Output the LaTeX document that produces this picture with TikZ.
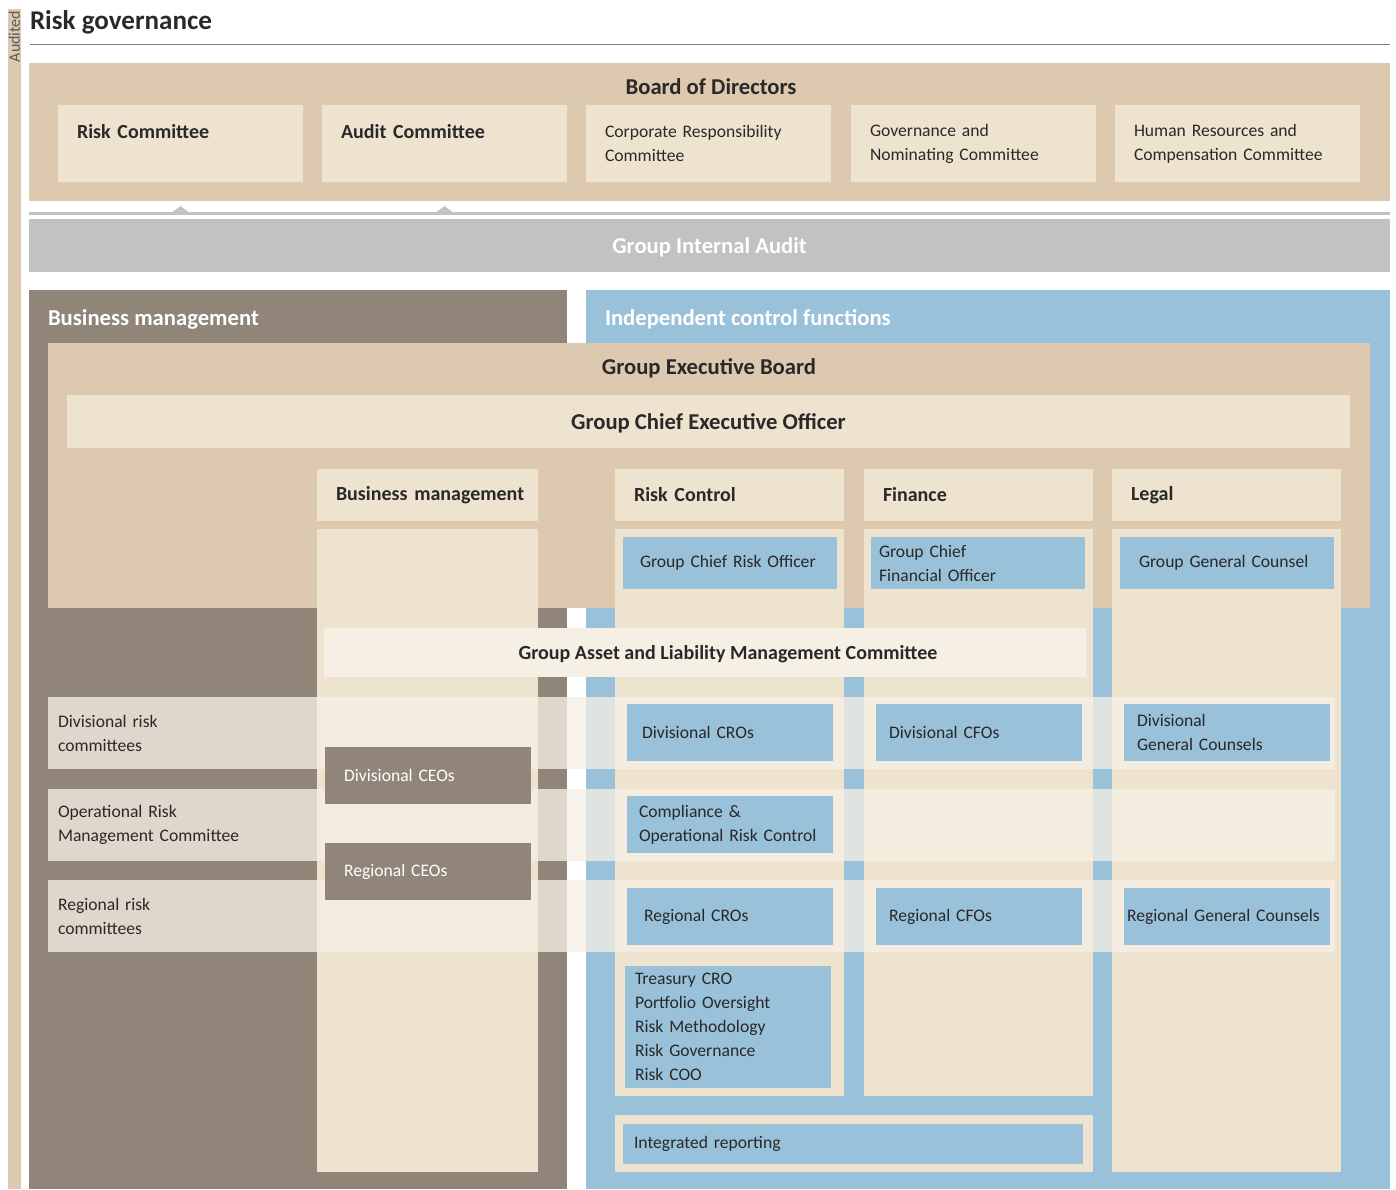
\documentclass[tikz,border=0pt]{standalone}
\usepackage{fontspec}
\setmainfont{Carlito}
\usetikzlibrary{positioning,calc}
\definecolor{boardtan}{HTML}{DCC9B0}
\definecolor{cream}{HTML}{EDE3CF}
\definecolor{pale}{HTML}{F5EFE4}
\definecolor{taupe}{HTML}{918579}
\definecolor{sky}{HTML}{99C1D9}
\definecolor{audgray}{HTML}{C1C2C4}
\definecolor{ink}{HTML}{2A2828}
\newcommand{\bodyfont}{\fontsize{13.2}{18}\selectfont}
\newcommand{\headfont}{\fontsize{15}{18}\selectfont\bfseries}
\newcommand{\levelfont}{\fontsize{17}{20}\selectfont\bfseries}

\begin{document}
\begin{tikzpicture}[x=0.75pt,y=-0.75pt,
  every node/.style={inner sep=0pt,outer sep=0pt,anchor=north west,text=ink,font=\bodyfont},
  wh/.style 2 args={minimum width=#1*0.75pt,minimum height=#2*0.75pt},
  txt/.code n args={3}{%
    \pgfmathsetlengthmacro\boxw{#1*0.75pt}%
    \pgfmathsetlengthmacro\boxh{#2*0.75pt}%
    \pgfmathsetlengthmacro\boxp{#3*0.75pt}%
    \pgfmathsetlengthmacro\boxt{(#1-2*#3)*0.75pt}%
    \tikzset{minimum width=\boxw,minimum height=\boxh,inner xsep=\boxp,text width=\boxt,align=left}},
  head/.style={font=\headfont},
  level/.style={font=\levelfont,text depth=0pt},
  sect/.style={level,text=white,anchor=west},
  comm/.style={fill=cream,txt={245}{77}{19}},
  colhead/.style={fill=cream,font=\headfont,txt={#1}{52}{19}},
  sbox/.style n args={3}{fill=sky,txt={#1}{#2}{#3}},
  ceo/.style={fill=taupe,text=white,txt={206}{57}{19}},
  band/.style={fill=pale,fill opacity=0.78,text opacity=1,txt={1287}{72}{10}}]
\useasboundingbox (0,0) rectangle (1396,1189);

% heading
\fill[boardtan] (8,9) rectangle (21,1189);
\node[rotate=90,anchor=center,font=\fontsize{12}{14}\selectfont,text=black!65] (aud) at (14.5,36.5) {Audited};
\node[anchor=base west,font=\fontsize{20.3}{24}\selectfont\bfseries] (title) at (30,29) {Risk governance};
\draw[black!50,line width=0.75pt] (30,44) -- (1390,44);

% board level
\node[fill=boardtan,wh={1361}{138}] (board) at (29,63) {};
\node[level,anchor=center] (boardt) at (711,87) {Board of Directors};
\node[comm,font=\headfont] (riskc) at (58,105) {Risk Committee\\\mbox{}};
\node[comm,font=\headfont] (auditc) at (322,105) {Audit Committee\\\mbox{}};
\node[comm] (crc) at (586,105) {Corporate Responsibility\\Committee};
\node[comm] (gnc) at (851,105) {Governance and\\Nominating Committee};
\node[comm] (hrc) at (1115,105) {Human Resources and\\Compensation Committee};

% internal audit
\fill[audgray] (29,212) rectangle (1390,214.5);
\foreach \c in {riskc,auditc}
  \fill[audgray] ($(\c.south)+(-8,30)$) -- ++(8,-6) -- ++(8,6) -- cycle;
\node[fill=audgray,wh={1361}{53},level,text=white] (gia) at (29,219) {Group Internal Audit};

% two sides
\node[fill=taupe,wh={538}{899}] (bm) at (29,290) {};
\node[fill=sky,wh={804}{899}] (icf) at (586,290) {};
\node[sect] (bmt) at (48,318) {Business management};
\node[sect] (icft) at (605,318) {Independent control functions};

% executive board
\node[fill=boardtan,wh={1322}{265}] (geb) at (48,343) {};
\node[level,anchor=center] (gebt) at (709,367) {Group Executive Board};
\node[fill=cream,wh={1283}{53},level] (gceo) at (67,395) {Group Chief Executive Officer};

% columns
\node[colhead=221] (bmh) at (317,469) {\mbox{Business management}};
\node[colhead=229] (rch) at (615,469) {Risk Control};
\node[colhead=229] (finh) at (864,469) {Finance};
\node[colhead=229] (legh) at (1112,469) {Legal};
\node[fill=cream,wh={221}{643},below=6pt of bmh] (bmcol) {};
\node[fill=cream,wh={229}{567},below=6pt of rch] (rccol) {};
\node[fill=cream,wh={229}{567},below=6pt of finh] (fincol) {};
\node[fill=cream,wh={229}{643},below=6pt of legh] (legcol) {};

\node[sbox={214}{52}{17}] (gcro) at (623,537) {Group Chief Risk Officer};
\node[sbox={214}{52}{8}] (gcfo) at (871,537) {Group Chief\\Financial Officer};
\node[sbox={214}{52}{19}] (ggc) at (1120,537) {Group General Counsel};

\node[fill=pale,wh={762}{49}] (galmc) at (324,628) {};
\node[head,anchor=center,text depth=0pt] (galmct) at ($(galmc.center)+(23,0)$) {Group Asset and Liability Management Committee};

% committee rows
\node[band] (drc) at (48,697) {Divisional risk\\committees};
\node[band] (orm) at (48,789) {Operational Risk\\Management Committee};
\node[band] (rrc) at (48,880) {Regional risk\\committees};

\node[ceo] (dceo) at (325,747) {Divisional CEOs};
\node[ceo] (rceo) at (325,843) {Regional CEOs};

\node[sbox={206}{57}{15}] (dcro) at (627,704) {Divisional CROs};
\node[sbox={206}{57}{13}] (dcfo) at (876,704) {Divisional CFOs};
\node[sbox={206}{57}{13}] (dgc) at (1124,704) {Divisional\\General Counsels};
\node[sbox={206}{57}{12}] (corc) at (627,796) {Compliance \&\\Operational Risk Control};
\node[sbox={206}{57}{17}] (rcro) at (627,888) {Regional CROs};
\node[sbox={206}{57}{13}] (rcfo) at (876,888) {Regional CFOs};
\node[sbox={206}{57}{3}] (rgc) at (1124,888) {Regional General Counsels};
\node[sbox={206}{122}{10}] (trs) at (625,966) {Treasury CRO\\Portfolio Oversight\\Risk Methodology\\Risk Governance\\Risk COO};

\node[fill=cream,wh={478}{57}] (irbox) at (615,1115) {};
\node[sbox={460}{40}{11}] (ir) at (623,1124) {Integrated reporting};
\end{tikzpicture}
\end{document}
